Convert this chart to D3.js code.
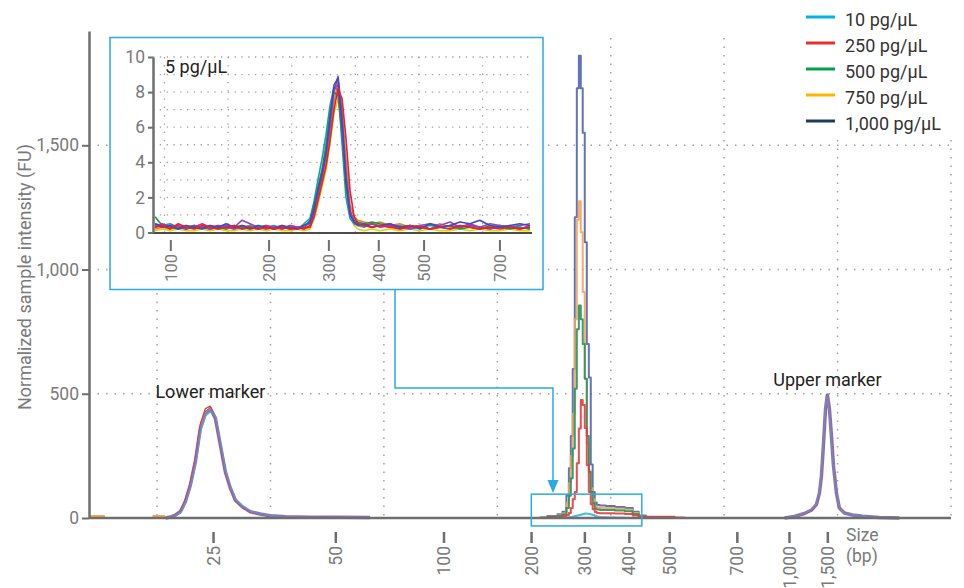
<!DOCTYPE html>
<html>
<head>
<meta charset="utf-8">
<title>Electropherogram</title>
<script src="https://cdn.jsdelivr.net/npm/d3@7"></script>
<style>
  body { margin: 0; background: #fff; }
  svg { font-family: Roboto, "Noto Sans", sans-serif; }
</style>
</head>
<body>
<script>
// ladder: fragment size (bp) and the migration time (s) it runs at
var ladderBp   = [25, 50, 100, 200, 300, 400, 500, 700, 1000, 1500];
var ladderTime = [22.49, 27.88, 32.65, 36.51, 38.86, 40.82, 42.60, 45.58, 47.88, 49.57];

var concentrations = ["10 pg/µL", "250 pg/µL", "500 pg/µL", "750 pg/µL", "1,000 pg/µL"];
var legendColors   = ["#00b4e6", "#e8302a", "#00a04a", "#ffb400", "#1b3a5c"];
var traceColors    = ["#3cb6dc", "#e83a3e", "#23955a", "#f5a457", "#5264b2"];
var ladderColor    = "#8a70b8";

var yTicks      = [0, 500, 1000, 1500];
var insetYTicks = [0, 2, 4, 6, 8, 10];
var insetBp     = [100, 200, 300, 400, 500, 700];

// sample peak (FU) for each concentration
var peakTime = [36.87, 37.54, 37.76, 37.98, 38.11, 38.20, 38.28, 38.37, 38.46, 38.55, 38.64, 38.72, 38.81, 38.90, 38.99,
                39.08, 39.16, 39.25, 39.34, 39.43, 39.61, 39.96, 40.40, 40.84, 41.10, 41.37, 41.72, 42.38, 43.26];
var peak10   = [0, 0, 1, 1, 2, 3, 4, 6, 8, 10, 12, 14, 16, 18, 17, 16, 14, 12, 8, 5, 3, 2, 1, 0, 0, 0, 0, 0, 0];
var peak250  = [0, 2, 4, 8, 12, 20, 40, 75, 105, 220, 360, 475, 455, 362, 213, 105, 55, 35, 24, 20, 19, 19, 18, 16, 10, 6, 5, 5, 2];
var peak500  = [1, 4, 8, 14, 40, 90, 160, 280, 520, 760, 855, 800, 700, 560, 330, 185, 105, 60, 38, 34, 32, 32, 30, 27, 16, 7, 4, 3, 0];
var peak750  = [1, 5, 10, 18, 60, 140, 250, 420, 800, 1200, 1275, 1150, 910, 560, 300, 190, 120, 75, 48, 42, 40, 40, 37, 33, 20, 8, 3, 1, 0];
var peak1000 = [2, 8, 15, 25, 90, 200, 330, 600, 1210, 1730, 1860, 1730, 1550, 1110, 700, 565, 215, 105, 62, 52, 50, 48, 44, 40, 25, 10, 3, 1, 0];

// small early signal of the 750 pg/µL run
var earlyTime = [17.05, 17.70, 18.70, 19.80, 20.35];
var early750  = [8, 8, null, 8, 8];

// lower marker (25 bp)
var lowerTime = [20.37, 20.59, 20.81, 21.03, 21.25, 21.47, 21.69, 21.91, 22.13, 22.35, 22.57, 22.79,
                 23.01, 23.23, 23.45, 23.76, 24.11, 24.55, 24.99, 25.65, 26.75, 28.07, 29.39];
var lowerLadder = [0, 4, 12, 25, 66, 133, 227, 362, 420, 440, 402, 294, 186, 121, 72, 45, 25, 16, 9, 5, 3, 3, 2];
var lower10     = [0, 3, 10, 22, 60, 125, 215, 345, 410, 428, 410, 302, 194, 127, 77, 48, 27, 17, 10, 4, 2, 1, 0];
var lower250    = [0, 5, 14, 30, 75, 145, 245, 380, 440, 450, 395, 285, 180, 115, 70, 42, 24, 15, 9, 5, 3, 1, 0];
var lower500    = [0, 5, 13, 27, 70, 138, 235, 370, 428, 442, 398, 290, 183, 118, 70, 43, 24, 15, 8, 4, 2, 1, 0];
var lower750    = [0, 4, 12, 26, 67, 134, 230, 364, 423, 441, 401, 293, 185, 120, 72, 44, 25, 16, 9, 4, 2, 1, 0];
var lower1000   = [0, 4, 12, 26, 68, 136, 232, 366, 424, 438, 400, 292, 184, 120, 71, 44, 25, 15, 9, 4, 2, 1, 0];

// upper marker (1,500 bp)
var upperTime = [47.66, 48.10, 48.54, 48.85, 49.07, 49.20, 49.29, 49.38, 49.47, 49.55,
                 49.64, 49.73, 49.82, 49.95, 50.08, 50.30, 50.66, 51.10, 51.84, 52.72];
var upperLadder = [0, 6, 18, 32, 55, 100, 170, 300, 440, 495, 440, 330, 210, 100, 40, 20, 12, 7, 2, 0];
var upper10     = [0, 6, 18, 33, 56, 102, 172, 305, 445, 488, 432, 322, 205, 98, 38, 19, 11, 7, 2, 0];
var upper250    = [0, 5, 16, 30, 52, 95, 160, 290, 430, 490, 450, 345, 220, 108, 44, 22, 12, 6, 2, 0];
var upper500    = [0, 5, 17, 31, 54, 99, 169, 300, 441, 493, 439, 329, 209, 101, 41, 21, 12, 7, 2, 0];
var upper750    = [0, 6, 18, 32, 56, 101, 171, 302, 442, 490, 436, 334, 214, 104, 44, 22, 13, 7, 2, 0];
var upper1000   = [0, 6, 17, 31, 54, 98, 168, 298, 438, 492, 438, 328, 208, 100, 40, 20, 12, 7, 2, 0];

// inset: replicate runs at 5 pg/µL
var insetTime = [32.03, 32.31, 32.62, 32.94, 33.25, 33.57, 33.88, 34.19, 34.51, 34.82, 35.14, 35.45, 35.76,
                 36.08, 36.39, 36.71, 37.02, 37.33, 37.65, 37.88, 38.12, 38.28, 38.43, 38.59, 38.75, 38.90,
                 39.06, 39.22, 39.38, 39.53, 39.69, 39.85, 40.00, 40.24, 40.55, 40.87, 41.26, 41.65, 42.05,
                 42.44, 42.83, 43.22, 43.62, 44.01, 44.40, 44.79, 45.19, 45.58, 45.97, 46.36, 46.76];
var rep1 = [0.1,0.2,0.1,0.2,0.1,0.1,0.2,0.1,0.2,0.1,0.1,0.2,0.1,0.2,0.1,0.2,0.1,0.1,0.2,0.1,0.2,0.8,1.6,2.6,3.6,5.0,6.8,7.6,6.4,3.6,1.0,0.4,0.2,0.1,0.2,0.1,0.2,0.1,0.2,0.1,0.2,0.1,0.1,0.2,0.1,0.2,0.1,0.1,0.2,0.1,0.1];
var rep2 = [0.2,0.3,0.2,0.3,0.4,0.2,0.3,0.2,0.4,0.2,0.3,0.2,0.3,0.4,0.2,0.3,0.2,0.4,0.3,0.2,0.3,1.0,2.0,3.0,4.0,5.6,7.4,8.6,7.0,4.2,1.6,0.9,0.7,0.6,0.5,0.6,0.4,0.5,0.3,0.4,0.2,0.5,0.3,0.4,0.3,0.2,0.3,0.4,0.3,0.2,0.3];
var rep3 = [0.5,0.4,0.5,0.3,0.2,0.4,0.3,0.4,0.2,0.3,0.2,0.3,0.4,0.2,0.3,0.4,0.2,0.3,0.2,0.5,0.8,1.8,3.0,4.2,5.6,7.2,8.3,8.1,5.0,2.0,0.8,0.5,0.4,0.3,0.5,0.4,0.3,0.4,0.2,0.3,0.4,0.3,0.2,0.3,0.4,0.3,0.2,0.3,0.4,0.3,0.2];
var rep4 = [0.9,0.4,0.3,0.2,0.3,0.4,0.3,0.2,0.3,0.2,0.4,0.3,0.2,0.3,0.4,0.2,0.3,0.2,0.3,0.2,0.7,1.6,2.6,3.6,5.0,6.8,8.0,7.8,5.6,2.6,1.1,0.7,0.6,0.5,0.6,0.5,0.4,0.3,0.4,0.3,0.2,0.3,0.4,0.2,0.3,0.2,0.4,0.3,0.2,0.3,0.2];
var rep5 = [0.3,0.5,0.3,0.4,0.2,0.3,0.5,0.3,0.4,0.3,0.2,0.4,0.3,0.2,0.4,0.3,0.2,0.4,0.3,0.2,0.4,1.2,2.2,3.2,4.4,6.2,8.2,8.4,6.0,3.2,1.3,0.6,0.5,0.4,0.5,0.3,0.4,0.2,0.3,0.4,0.2,0.3,0.4,0.3,0.5,0.3,0.2,0.4,0.3,0.2,0.4];
var rep6 = [0.4,0.3,0.4,0.3,0.2,0.4,0.3,0.2,0.3,0.4,0.3,0.7,0.5,0.3,0.2,0.3,0.4,0.2,0.3,0.4,0.5,1.3,2.3,3.3,4.5,6.0,8.0,8.9,6.6,3.4,1.2,0.6,0.5,0.4,0.3,0.4,0.5,0.3,0.2,0.4,0.5,0.4,0.6,0.3,0.4,0.3,0.5,0.4,0.3,0.4,0.5];
var rep7 = [0.5,0.3,0.4,0.2,0.4,0.3,0.2,0.4,0.3,0.5,0.3,0.4,0.2,0.4,0.3,0.2,0.4,0.3,0.2,0.4,0.6,1.4,2.4,3.4,4.6,6.4,8.4,8.8,6.2,3.0,1.0,0.6,0.4,0.5,0.3,0.4,0.5,0.3,0.4,0.2,0.5,0.3,0.4,0.6,0.5,0.7,0.4,0.3,0.4,0.5,0.4];
var rep8 = [0.3,0.4,0.2,0.5,0.3,0.2,0.4,0.3,0.2,0.3,0.4,0.2,0.3,0.2,0.3,0.2,0.3,0.2,0.2,0.3,0.3,0.9,1.8,2.8,3.8,5.2,7.0,8.2,7.6,5.4,2.4,0.9,0.5,0.4,0.3,0.4,0.3,0.2,0.4,0.3,0.2,0.3,0.2,0.4,0.3,0.2,0.3,0.2,0.3,0.2,0.3];
var repColors = ["#e6cf00", "#e8842a", "#18a0a8", "#1a9a40", "#e0208c", "#8a48b8", "#3a4cc0", "#e8202a"];

var insetGridTime = [32.4, 34.9, 37.4, 39.9, 42.4, 44.9];

var axisGray = "#6e6e6e", labelGray = "#7a7a7a", gridGray = "#a0a0a0", cyan = "#29abe2";
var fmt = d3.format(",");

var svg = d3.select("body").append("svg")
    .attr("width", 964)
    .attr("height", 588);

var x = d3.scaleLinear().domain([17, 55]).range([89, 951]);
var y = d3.scaleLinear().domain([0, 1960]).range([518, 31]);
var bpToTime = d3.scaleLinear().domain(ladderBp).range(ladderTime);

// grid
svg.append("g").selectAll("line")
    .data(d3.range(20, 56, 5))
    .enter().append("line")
    .attr("x1", d => x(d)).attr("x2", d => x(d))
    .attr("y1", 38).attr("y2", y(0))
    .attr("stroke", gridGray).attr("stroke-width", 1.5).attr("stroke-dasharray", "1.5,7");
svg.append("g").selectAll("line")
    .data(yTicks.slice(1))
    .enter().append("line")
    .attr("x1", x(17)).attr("x2", x(55))
    .attr("y1", d => y(d)).attr("y2", d => y(d))
    .attr("stroke", gridGray).attr("stroke-width", 1.5).attr("stroke-dasharray", "1.5,7");

// traces
var plot = svg.append("g");
function trace(times, values, color, width, curve, opacity) {
    var line = d3.line()
        .defined(d => d != null)
        .curve(curve)
        .x((d, i) => x(times[i]))
        .y(d => y(d));
    plot.append("path")
        .datum(values)
        .attr("d", line)
        .attr("fill", "none")
        .attr("stroke", color)
        .attr("stroke-width", width)
        .attr("stroke-opacity", opacity || 1)
        .attr("stroke-linejoin", "round");
}

trace(earlyTime, early750, traceColors[3], 2, d3.curveLinear);

var lowers = [lower10, lower250, lower500, lower750, lower1000];
var uppers = [upper10, upper250, upper500, upper750, upper1000];
trace(lowerTime, lowerLadder, ladderColor, 3.5, d3.curveLinear);
trace(upperTime, upperLadder, ladderColor, 3.5, d3.curveLinear);
[4, 2, 3, 1, 0].forEach(function(i) {
    trace(lowerTime, lowers[i], traceColors[i], 1.3, d3.curveLinear);
    trace(upperTime, uppers[i], traceColors[i], 1.3, d3.curveLinear);
});
trace(lowerTime, lowerLadder, ladderColor, 1.6, d3.curveLinear, 0.75);
trace(upperTime, upperLadder, ladderColor, 1.6, d3.curveLinear, 0.75);

var peaks = [peak10, peak250, peak500, peak750, peak1000];
[4, 3, 2, 1, 0].forEach(function(i) {
    trace(peakTime, peaks[i], traceColors[i], 2, d3.curveStep, 0.9);
});

// axes
svg.append("line")
    .attr("x1", x(17)).attr("x2", x(55))
    .attr("y1", y(0)).attr("y2", y(0))
    .attr("stroke", axisGray).attr("stroke-width", 2.5);

var yAxis = svg.append("g")
    .attr("transform", "translate(" + x(17) + ",0)")
    .call(d3.axisLeft(y).tickValues(yTicks).tickFormat(fmt).tickSize(7).tickSizeOuter(0).tickPadding(3));
yAxis.select(".domain").attr("stroke", axisGray).attr("stroke-width", 2.5);
yAxis.selectAll(".tick line").attr("stroke", axisGray).attr("stroke-width", 2);
yAxis.selectAll("text").attr("fill", labelGray).attr("font-size", 17.5).attr("font-family", "Roboto");

var xTick = svg.append("g")
    .attr("transform", "translate(0,532)")
    .selectAll("g")
    .data(ladderBp)
    .enter().append("g")
    .attr("transform", d => "translate(" + x(bpToTime(d)) + ",0)");
xTick.append("line")
    .attr("y2", 11)
    .attr("stroke", axisGray).attr("stroke-width", 2.5);
xTick.append("text")
    .attr("transform", "translate(0,14) rotate(-90)")
    .attr("text-anchor", "end")
    .attr("dy", "0.35em")
    .attr("fill", labelGray).attr("font-size", 17.5)
    .text(d => fmt(d));

svg.append("text")
    .attr("x", 846).attr("y", 541)
    .attr("fill", labelGray).attr("font-size", 17.5)
    .text("Size");
svg.append("text")
    .attr("x", 846).attr("y", 562)
    .attr("fill", labelGray).attr("font-size", 17.5)
    .text("(bp)");

svg.append("text")
    .attr("transform", "translate(31,277) rotate(-90)")
    .attr("text-anchor", "middle")
    .attr("fill", labelGray).attr("font-size", 18)
    .text("Normalized sample intensity (FU)");

// marker labels
svg.append("text")
    .attr("x", x(lowerTime[9])).attr("y", y(440) - 11)
    .attr("text-anchor", "middle")
    .attr("fill", "#222").attr("font-size", 18)
    .text("Lower marker");
svg.append("text")
    .attr("x", x(upperTime[9])).attr("y", y(495) - 9)
    .attr("text-anchor", "middle")
    .attr("fill", "#222").attr("font-size", 18)
    .text("Upper marker");

// box around the sample region + connector
svg.append("rect")
    .attr("x", x(36.5)).attr("y", y(96))
    .attr("width", x(41.37) - x(36.5)).attr("height", y(-32) - y(96))
    .attr("fill", "none").attr("stroke", cyan).attr("stroke-width", 1.5);
svg.append("path")
    .attr("d", "M395,290V388H553V481")
    .attr("fill", "none").attr("stroke", cyan).attr("stroke-width", 1.5);
svg.append("path")
    .attr("d", "M547.5,480L558.5,480L553,493Z")
    .attr("fill", cyan);

// inset
var inset = svg.append("g");
inset.append("rect")
    .attr("x", 110).attr("y", 37.5)
    .attr("width", 433).attr("height", 252)
    .attr("fill", "#fff").attr("stroke", cyan).attr("stroke-width", 1.5);

var xi = d3.scaleLinear().domain([31.95, 46.84]).range([153, 532]);
var yi = d3.scaleLinear().domain([0, 10]).range([232.5, 57]);

inset.append("g").selectAll("line")
    .data(d3.range(1, 11))
    .enter().append("line")
    .attr("x1", xi(31.95)).attr("x2", xi(46.84))
    .attr("y1", d => yi(d)).attr("y2", d => yi(d))
    .attr("stroke", gridGray).attr("stroke-width", 1.3).attr("stroke-dasharray", "1.3,5.5");
inset.append("g").selectAll("line")
    .data(insetGridTime)
    .enter().append("line")
    .attr("x1", d => xi(d)).attr("x2", d => xi(d))
    .attr("y1", yi(10)).attr("y2", yi(0))
    .attr("stroke", gridGray).attr("stroke-width", 1.3).attr("stroke-dasharray", "1.3,7");

svg.append("clipPath").attr("id", "insetClip")
    .append("rect").attr("x", 153).attr("y", 50).attr("width", 379).attr("height", 190);

var reps = [rep1, rep2, rep3, rep4, rep5, rep6, rep7, rep8];
var insetLine = d3.line()
    .x((d, i) => xi(insetTime[i]))
    .y(d => yi(d));
inset.append("g")
    .attr("clip-path", "url(#insetClip)")
    .selectAll("path")
    .data(reps)
    .enter().append("path")
    .attr("d", insetLine)
    .attr("fill", "none")
    .attr("stroke", (d, i) => repColors[i])
    .attr("stroke-width", 1.6)
    .attr("stroke-linejoin", "round");

inset.append("line")
    .attr("x1", xi(31.95)).attr("x2", xi(46.84))
    .attr("y1", yi(0) + 0.5).attr("y2", yi(0) + 0.5)
    .attr("stroke", "#111").attr("stroke-width", 1.5);

var yiAxis = inset.append("g")
    .attr("transform", "translate(153,0)")
    .call(d3.axisLeft(yi).tickValues(insetYTicks).tickSize(5).tickSizeOuter(0).tickPadding(3));
yiAxis.select(".domain").attr("stroke", axisGray).attr("stroke-width", 2.5);
yiAxis.selectAll(".tick line").attr("stroke", axisGray).attr("stroke-width", 2);
yiAxis.selectAll("text").attr("fill", labelGray).attr("font-size", 17.5).attr("font-family", "Roboto");

var xiTick = inset.append("g")
    .attr("transform", "translate(0,240)")
    .selectAll("g")
    .data(insetBp)
    .enter().append("g")
    .attr("transform", d => "translate(" + xi(bpToTime(d)) + ",0)");
xiTick.append("line")
    .attr("y2", 11)
    .attr("stroke", axisGray).attr("stroke-width", 2);
xiTick.append("text")
    .attr("transform", "translate(0,14) rotate(-90)")
    .attr("text-anchor", "end")
    .attr("dy", "0.35em")
    .attr("fill", labelGray).attr("font-size", 16.5)
    .text(d => fmt(d));

inset.append("text")
    .attr("x", 165).attr("y", 73)
    .attr("fill", "#222").attr("font-size", 18)
    .text("5 pg/µL");

// legend
var legend = svg.append("g");
legend.append("rect")
    .attr("x", 798).attr("y", 0).attr("width", 166).attr("height", 140)
    .attr("fill", "#fff");
var item = legend.selectAll(".item")
    .data(concentrations)
    .enter().append("g")
    .attr("class", "item")
    .attr("transform", (d, i) => "translate(806," + (17 + i * 26) + ")");
item.append("line")
    .attr("x2", 29)
    .attr("stroke", (d, i) => legendColors[i])
    .attr("stroke-width", 3);
item.append("text")
    .attr("x", 39).attr("y", 8.5)
    .attr("fill", "#333").attr("font-size", 18)
    .text(d => d);
</script>
</body>
</html>
